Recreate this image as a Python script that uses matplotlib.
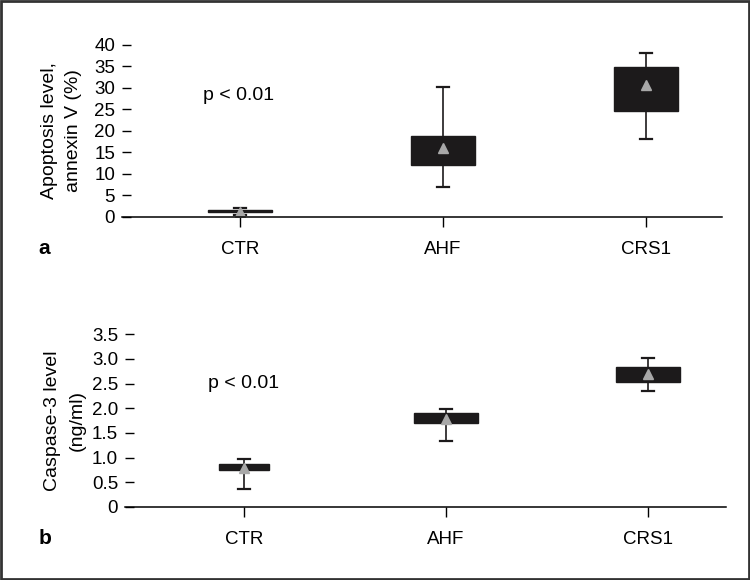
import matplotlib.pyplot as plt
from matplotlib.patches import Rectangle

plt.rcParams['font.family'] = ['Liberation Sans', 'DejaVu Sans']

# groups
groups = ['CTR', 'AHF', 'CRS1']

# panel a: apoptosis (annexin V, %)
apo_q1 = [1.1, 12.1, 24.6]
apo_q3 = [1.6, 18.8, 34.8]
apo_lo = [0.5, 6.9, 18.1]
apo_hi = [2.0, 30.1, 38.1]
apo_mean = [1.1, 16.1, 30.6]

# panel b: caspase-3 (ng/ml)
cas_q1 = [0.74, 1.71, 2.54]
cas_q3 = [0.87, 1.90, 2.83]
cas_lo = [0.37, 1.34, 2.36]
cas_hi = [0.97, 1.99, 3.02]
cas_mean = [0.78, 1.78, 2.70]

apo_ticks = [0, 5, 10, 15, 20, 25, 30, 35, 40]
cas_ticks = [0, 0.5, 1.0, 1.5, 2.0, 2.5, 3.0, 3.5]
cas_ticklabels = ['0', '0.5', '1.0', '1.5', '2.0', '2.5', '3.0', '3.5']


def make_stats(q1, q3, lo, hi, mean):
    stats = []
    for i in range(len(q1)):
        stats.append(dict(q1=q1[i], q3=q3[i], med=(q1[i] + q3[i]) / 2,
                          whislo=lo[i], whishi=hi[i], mean=mean[i], fliers=[]))
    return stats


def draw_panel(ax, stats, widths, ylim, yticks, yticklabels, ylabel, ptext_y,
               letter, letter_y):
    ax.bxp(stats, positions=[0, 1, 2], widths=widths, showmeans=True,
           patch_artist=True, showfliers=False, capwidths=0.06,
           boxprops=dict(facecolor='#1c1a1b', edgecolor='#1c1a1b', linewidth=1),
           medianprops=dict(color='#1c1a1b', linewidth=1),
           whiskerprops=dict(color='#1c1a1b', linewidth=1.2),
           capprops=dict(color='#1c1a1b', linewidth=1.6),
           meanprops=dict(marker='^', markerfacecolor='#a8a8a8',
                          markeredgecolor='#a8a8a8', markersize=7.5))
    ax.set_ylim(*ylim)
    ax.set_yticks(yticks)
    ax.set_yticklabels(yticklabels)
    ax.set_xticks([0, 1, 2])
    ax.set_xticklabels(groups)
    for s in ['top', 'right', 'left']:
        ax.spines[s].set_visible(False)
    ax.spines['bottom'].set_linewidth(1.1)
    ax.tick_params(axis='y', direction='in', length=6.5, width=1, pad=5, labelsize=13.5)
    ax.tick_params(axis='x', direction='out', length=7.2, width=1, pad=10, labelsize=13.5)
    ax.set_ylabel(ylabel, fontsize=14, linespacing=1.6)
    ax.yaxis.set_label_coords(-0.066, 0.5)
    ax.text(-0.18, ptext_y, 'p < 0.01', fontsize=14, va='center', ha='left')
    fig.text(0.051, letter_y, letter, fontsize=15, fontweight='bold',
             va='center', ha='left')


fig = plt.figure(figsize=(7.5, 5.8), dpi=100)

ax1 = fig.add_axes([0.1627, 0.6259, 0.8, 0.2972])
draw_panel(ax1, make_stats(apo_q1, apo_q3, apo_lo, apo_hi, apo_mean),
           [0.315, 0.315, 0.315], (0, 40), apo_ticks, [str(t) for t in apo_ticks],
           'Apoptosis level,\nannexin V (%)', 28.3, 'a', 0.572)
ax1.set_xlim(-0.581, 2.374)

ax2 = fig.add_axes([0.1667, 0.1259, 0.8013, 0.2977])
draw_panel(ax2, make_stats(cas_q1, cas_q3, cas_lo, cas_hi, cas_mean),
           [0.25, 0.315, 0.315], (0, 3.5), cas_ticks, cas_ticklabels,
           'Caspase-3 level\n(ng/ml)', 2.5, 'b', 0.072)
ax2.set_xlim(-0.589, 2.386)

# outer frame
fig.patches.append(Rectangle((0.001, 0.001), 0.997, 0.997, transform=fig.transFigure,
                             fill=False, edgecolor='#333333', linewidth=2))

fig.savefig('out.png', dpi=100)
